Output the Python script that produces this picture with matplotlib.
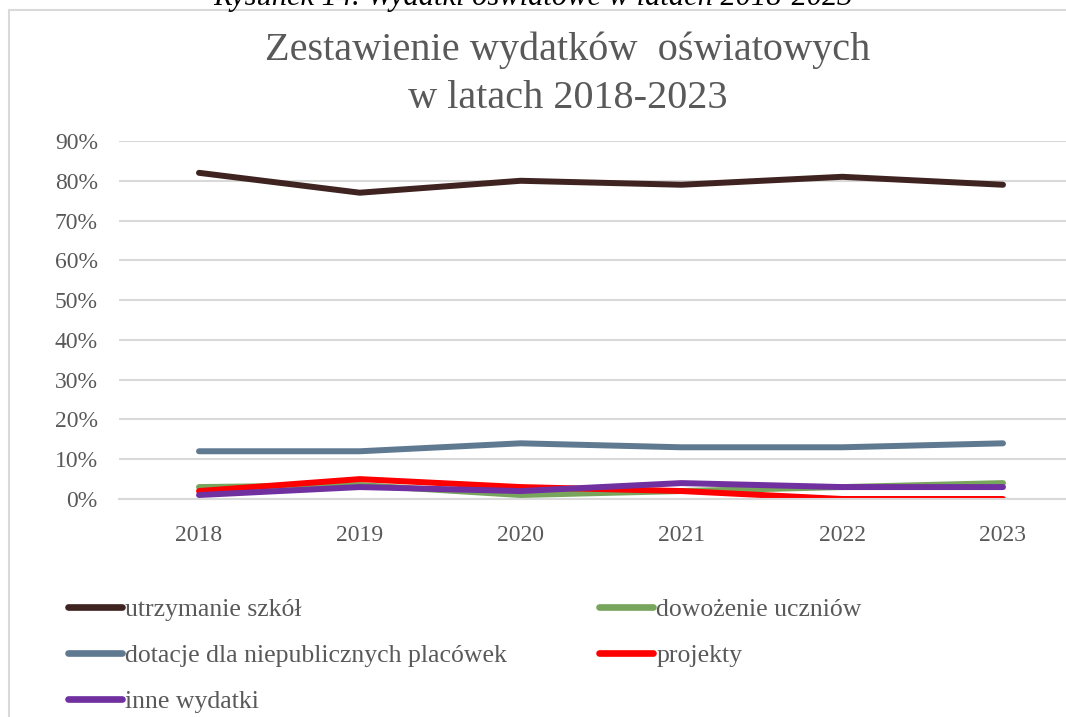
import matplotlib
matplotlib.use("Agg")
import matplotlib.pyplot as plt
from matplotlib.patches import Rectangle
from matplotlib.ticker import FuncFormatter, MultipleLocator

plt.rcParams['font.family'] = ['Liberation Serif', 'DejaVu Serif']

years = ["2018", "2019", "2020", "2021", "2022", "2023"]
utrzymanie = [82, 77, 80, 79, 81, 79]
dowozenie = [3, 3.5, 1, 2, 3, 4]
dotacje = [12, 12, 14, 13, 13, 14]
projekty = [2, 5, 3, 2, 0, 0]
inne = [1, 3, 2, 4, 3, 3]

series = [
    ("utrzymanie szkół", utrzymanie, "#3f2320"),
    ("dowożenie uczniów", dowozenie, "#77a55b"),
    ("dotacje dla niepublicznych placówek", dotacje, "#5f7991"),
    ("projekty", projekty, "#ff0000"),
    ("inne wydatki", inne, "#7030a0"),
]

W, H = 1066, 717
fig = plt.figure(figsize=(W / 100, H / 100), dpi=100)

# chart border
fig.patches.append(Rectangle((9 / W, -0.1), 1.2, 1 - 10 / H + 0.1, transform=fig.transFigure,
                             fill=False, edgecolor="#d9d9d9", linewidth=1.5, zorder=0))

# caption above the chart (clipped by the top edge, as in the reference)
fig.text(533 / W, 1 - 5 / H, "Rysunek 14. Wydatki oświatowe w latach 2018-2023",
         ha="center", va="baseline", fontsize=22, style="italic", color="#000000")

left = 118.6 / W
width = (6 * 160.8) / W
bottom = (H - 499) / H
height = (499 - 141) / H
ax = fig.add_axes([left, bottom, width, height])

x = list(range(len(years)))
handles = {}
for name, vals, col in series:
    (h,) = ax.plot(x, [v / 100 for v in vals], color=col, linewidth=4.3,
                   solid_capstyle="round", solid_joinstyle="round", label=name)
    handles[name] = h

ax.set_xlim(-0.5, 5.5)
ax.set_ylim(0, 0.9)
ax.yaxis.set_major_locator(MultipleLocator(0.1))
ax.yaxis.set_major_formatter(FuncFormatter(lambda v, p: f"{v * 100:.0f}%"))
ax.set_xticks(x)
ax.set_xticklabels(years)
ax.grid(axis="y", color="#d9d9d9", linewidth=1.5)
ax.set_axisbelow(True)
for s in ax.spines.values():
    s.set_visible(False)
ax.spines["bottom"].set_visible(True)
ax.spines["bottom"].set_color("#d9d9d9")
ax.spines["bottom"].set_linewidth(1.5)
ax.tick_params(length=0, labelsize=17, labelcolor="#595959")
ax.tick_params(axis="x", pad=19)
ax.tick_params(axis="y", pad=15)

fig.text(568 / W, 1 - 50 / H, "Zestawienie wydatków  oświatowych",
         ha="center", va="center", fontsize=29, color="#595959")
fig.text(568 / W, 1 - 99 / H, "w latach 2018-2023",
         ha="center", va="center", fontsize=29, color="#595959")

order = ["utrzymanie szkół", "dotacje dla niepublicznych placówek", "inne wydatki",
         "dowożenie uczniów", "projekty"]
leg = fig.legend([handles[n] for n in order], order, ncol=2,
                 loc="upper left", bbox_to_anchor=(68 / W, 1 - 598 / H),
                 frameon=False, fontsize=18.5, handlelength=2.1, handletextpad=0.12,
                 labelspacing=0.9, columnspacing=3.6, borderpad=0, borderaxespad=0,
                 labelcolor="#595959")
for lh in leg.get_lines():
    lh.set_linewidth(4.8)

fig.savefig("out.png", dpi=100)
